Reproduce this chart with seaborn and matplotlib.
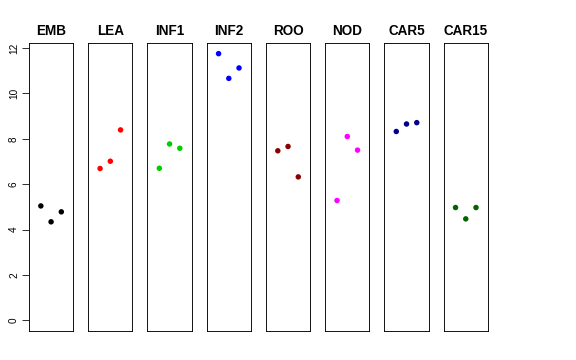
import pandas as pd
import matplotlib
matplotlib.use("Agg")
import matplotlib.pyplot as plt
import seaborn as sns

sns.set_style("white")
plt.rcParams['font.family'] = ['Liberation Sans', 'DejaVu Sans']

tissues = ["EMB", "LEA", "INF1", "INF2", "ROO", "NOD", "CAR5", "CAR15"]
colors = ["#000000", "#FF0000", "#00CD00", "#0000FF", "#8B0000", "#FF00FF", "#00008B", "#006400"]
reps = [1, 2, 3]

emb = [5.04, 4.34, 4.78]
lea = [6.69, 7.01, 8.39]
inf1 = [6.70, 7.77, 7.58]
inf2 = [11.75, 10.66, 11.12]
roo = [7.47, 7.66, 6.32]
nod = [5.28, 8.10, 7.50]
car5 = [8.32, 8.65, 8.71]
car15 = [4.97, 4.47, 4.97]

values = [emb, lea, inf1, inf2, roo, nod, car5, car15]

df = pd.DataFrame({
    "tissue": [t for t in tissues for _ in reps],
    "rep": reps * len(tissues),
    "expr": [v for vals in values for v in vals],
})

ymax = df["expr"].max()
pad = 0.04 * ymax

fig, axes = plt.subplots(1, 8, figsize=(8, 5), dpi=72)
fig.subplots_adjust(left=0.0503, right=0.847, top=0.8806, bottom=0.0806, wspace=0.34)

for i, (ax, t, c) in enumerate(zip(axes, tissues, colors)):
    sub = df[df["tissue"] == t]
    sns.scatterplot(data=sub, x="rep", y="expr", color=c, s=30, edgecolor="none", ax=ax, legend=False)
    ax.set_xlim(-0.16, 4.16)
    ax.set_ylim(-pad, ymax + pad)
    ax.set_title(t, fontsize=13.5, fontweight="bold", pad=8, color="black")
    ax.set_xlabel("")
    ax.set_ylabel("")
    ax.set_xticks([])
    for sp in ax.spines.values():
        sp.set_visible(True)
        sp.set_color("black")
        sp.set_linewidth(0.9)
    if i == 0:
        ax.set_yticks(range(0, 13, 2))
        ax.tick_params(axis="y", left=True, length=7, width=0.8, pad=3, labelsize=10,
                       color="black", labelcolor="black")
        for lab in ax.get_yticklabels():
            lab.set_rotation(90)
            lab.set_va("center")
    else:
        ax.set_yticks([])

fig.savefig("out.png", dpi=72)
